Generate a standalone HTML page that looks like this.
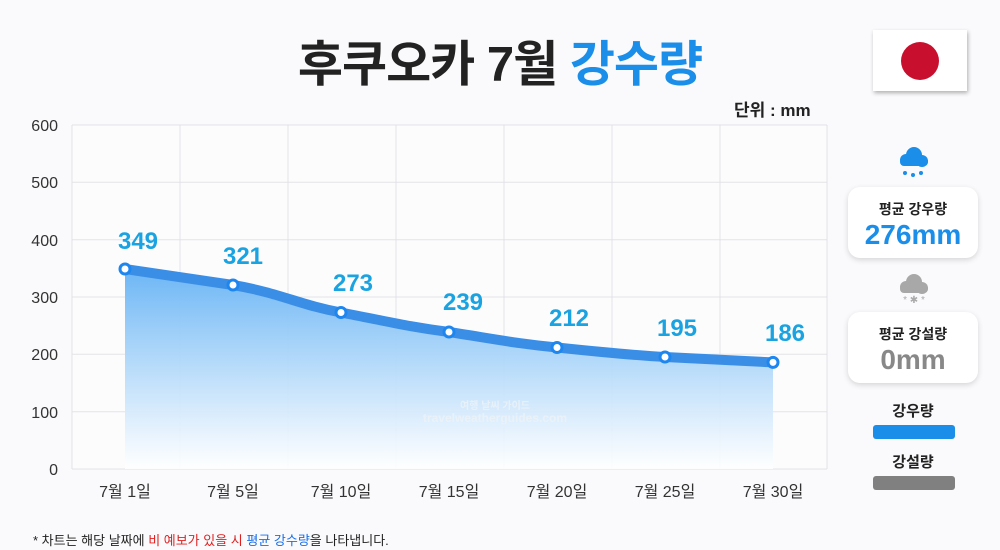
<!DOCTYPE html>
<html><head><meta charset="utf-8"><style>
body{margin:0;width:1000px;height:550px;background:#fafafc;font-family:"Liberation Sans","Noto Sans CJK KR",sans-serif;position:relative;overflow:hidden}
.t{position:absolute}
.card{position:absolute;left:848px;width:130px;background:#fff;border-radius:12px;box-shadow:0 2px 6px rgba(0,0,0,0.15);text-align:center}
</style></head><body>
<div class="t" style="left:0;width:1000px;top:25px;text-align:center;font-size:49px;font-weight:bold;color:#222;letter-spacing:-1px">후쿠오카 7월 <span style="color:#1a8ee8">강수량</span></div>
<div class="t" style="left:734px;top:96px;font-size:17px;font-weight:bold;color:#222">단위 : mm</div>
<div class="t" style="left:873px;top:30px;width:94px;height:61px;background:#fff;box-shadow:1px 2px 4px rgba(0,0,0,0.3)"><div style="position:absolute;left:28px;top:12px;width:38px;height:38px;border-radius:50%;background:#c8102e"></div></div>
<svg class="t" style="left:0;top:0" width="1000" height="550">
<defs><linearGradient id="g" x1="0" y1="0" x2="0" y2="1"><stop offset="0" stop-color="#6cb6f5"/><stop offset="1" stop-color="#ffffff" stop-opacity="0.9"/></linearGradient></defs>
<rect x="72" y="125" width="755" height="344" fill="#fcfcfd"/>
<g stroke="#e3e3e8" stroke-width="1">
<line x1="72" y1="125" x2="827" y2="125"/><line x1="72" y1="182.3" x2="827" y2="182.3"/><line x1="72" y1="239.7" x2="827" y2="239.7"/><line x1="72" y1="297" x2="827" y2="297"/><line x1="72" y1="354.3" x2="827" y2="354.3"/><line x1="72" y1="411.7" x2="827" y2="411.7"/><line x1="72" y1="469" x2="827" y2="469"/>
<line x1="72" y1="125" x2="72" y2="469"/><line x1="180" y1="125" x2="180" y2="469"/><line x1="288" y1="125" x2="288" y2="469"/><line x1="396" y1="125" x2="396" y2="469"/><line x1="504" y1="125" x2="504" y2="469"/><line x1="612" y1="125" x2="612" y2="469"/><line x1="720" y1="125" x2="720" y2="469"/><line x1="827" y1="125" x2="827" y2="469"/>
</g>
<g font-size="16" fill="#333" text-anchor="end"><text x="58" y="131">600</text><text x="58" y="188">500</text><text x="58" y="246">400</text><text x="58" y="303">300</text><text x="58" y="360">200</text><text x="58" y="418">100</text><text x="58" y="475">0</text></g>
<path d="M125,269 L233,285 C280,293 300,305 341,312.5 C390,322 410,327 449,332 C500,340 520,344 557,347.5 C600,352 630,355 665,357 L773,362.4 L773,469 L125,469 Z" fill="url(#g)"/>
<path d="M125,269 L233,285 C280,293 300,305 341,312.5 C390,322 410,327 449,332 C500,340 520,344 557,347.5 C600,352 630,355 665,357 L773,362.4" fill="none" stroke="#3b8ee6" stroke-width="10" stroke-linecap="round" stroke-linejoin="round"/>
<g fill="#fff" stroke="#1d86ef" stroke-width="3">
<circle cx="125" cy="269" r="5"/><circle cx="233" cy="285" r="5"/><circle cx="341" cy="312.5" r="5"/><circle cx="449" cy="332" r="5"/><circle cx="557" cy="347.5" r="5"/><circle cx="665" cy="357" r="5"/><circle cx="773" cy="362.4" r="5"/></g>
<g font-size="24" fill="#1aa3e0" text-anchor="middle" font-weight="bold">
<text x="138" y="249">349</text><text x="243" y="264">321</text><text x="353" y="291">273</text><text x="463" y="310">239</text><text x="569" y="326">212</text><text x="677" y="336">195</text><text x="785" y="341">186</text></g>
<g font-size="16" fill="#333" text-anchor="middle">
<text x="125" y="497">7월 1일</text><text x="233" y="497">7월 5일</text><text x="341" y="497">7월 10일</text><text x="449" y="497">7월 15일</text><text x="557" y="497">7월 20일</text><text x="665" y="497">7월 25일</text><text x="773" y="497">7월 30일</text></g>
<g fill="#eef3f8" opacity="0.8" text-anchor="middle" font-weight="bold"><text x="495" y="409" font-size="10">여행 날씨 가이드</text><text x="495" y="422" font-size="12">travelweatherguides.com</text></g>
<g fill="#1a8ee8"><circle cx="906" cy="160" r="6"/><circle cx="914" cy="155" r="8"/><circle cx="922" cy="161" r="6"/><rect x="900" y="158" width="28" height="8" rx="4"/><circle cx="905" cy="173" r="2"/><circle cx="913" cy="175" r="2"/><circle cx="921" cy="173" r="2"/></g>
<g fill="#a8a8a8"><circle cx="906" cy="287" r="6"/><circle cx="914" cy="282" r="8"/><circle cx="922" cy="288" r="6"/><rect x="900" y="285" width="28" height="8" rx="4"/></g>
<text x="914" y="303" font-size="10" fill="#aaa" text-anchor="middle">* ✱ *</text>
<rect x="873" y="425" width="82" height="14" rx="3" fill="#1a8ee8"/>
<rect x="873" y="476" width="82" height="14" rx="3" fill="#808080"/>
</svg>
<div class="card" style="top:187px;height:71px"><div style="font-size:14px;font-weight:bold;color:#222;margin-top:12px">평균 강우량</div><div style="font-size:28px;font-weight:bold;color:#1a8ee8;line-height:32px">276mm</div></div>
<div class="card" style="top:312px;height:71px"><div style="font-size:14px;font-weight:bold;color:#222;margin-top:12px">평균 강설량</div><div style="font-size:28px;font-weight:bold;color:#888;line-height:32px">0mm</div></div>
<div class="t" style="left:848px;width:130px;top:400px;text-align:center;font-size:15px;font-weight:bold;color:#222">강우량</div>
<div class="t" style="left:848px;width:130px;top:451px;text-align:center;font-size:15px;font-weight:bold;color:#222">강설량</div>
<div class="t" style="left:33px;top:530px;font-size:13px;color:#222">* 차트는 해당 날짜에 <span style="color:#e02020">비 예보가 있을 시</span> <span style="color:#1a6ee8">평균 강수량</span>을 나타냅니다.</div>
</body></html>
